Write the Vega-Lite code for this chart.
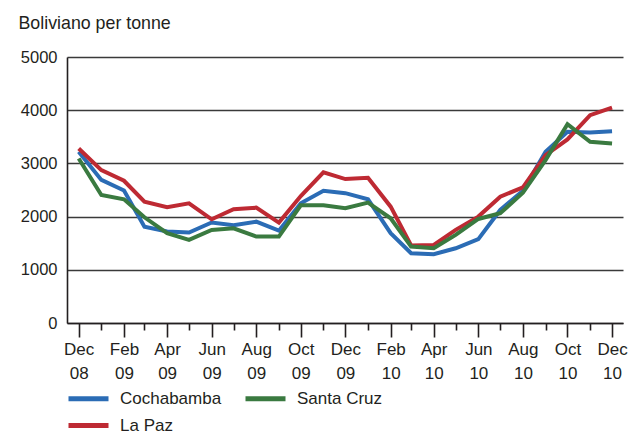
{
  "$schema": "https://vega.github.io/schema/vega-lite/v6.json",
  "width": 556,
  "height": 266,
  "autosize": "none",
  "padding": {"left": 67, "top": 57, "right": 6, "bottom": 111},
  "config": {
    "font": "Liberation Sans",
    "view": {"stroke": null}
  },
  "data": {
    "values": [
      {"date": "2008-12-01", "market": "Cochabamba", "price": 3218},
      {"date": "2009-01-01", "market": "Cochabamba", "price": 2690},
      {"date": "2009-02-01", "market": "Cochabamba", "price": 2490},
      {"date": "2009-03-01", "market": "Cochabamba", "price": 1810},
      {"date": "2009-04-01", "market": "Cochabamba", "price": 1720},
      {"date": "2009-05-01", "market": "Cochabamba", "price": 1700},
      {"date": "2009-06-01", "market": "Cochabamba", "price": 1890},
      {"date": "2009-07-01", "market": "Cochabamba", "price": 1840},
      {"date": "2009-08-01", "market": "Cochabamba", "price": 1905},
      {"date": "2009-09-01", "market": "Cochabamba", "price": 1735},
      {"date": "2009-10-01", "market": "Cochabamba", "price": 2250},
      {"date": "2009-11-01", "market": "Cochabamba", "price": 2487},
      {"date": "2009-12-01", "market": "Cochabamba", "price": 2440},
      {"date": "2010-01-01", "market": "Cochabamba", "price": 2325},
      {"date": "2010-02-01", "market": "Cochabamba", "price": 1690},
      {"date": "2010-03-01", "market": "Cochabamba", "price": 1312},
      {"date": "2010-04-01", "market": "Cochabamba", "price": 1293},
      {"date": "2010-05-01", "market": "Cochabamba", "price": 1405},
      {"date": "2010-06-01", "market": "Cochabamba", "price": 1575},
      {"date": "2010-07-01", "market": "Cochabamba", "price": 2125},
      {"date": "2010-08-01", "market": "Cochabamba", "price": 2487},
      {"date": "2010-09-01", "market": "Cochabamba", "price": 3218},
      {"date": "2010-10-01", "market": "Cochabamba", "price": 3593},
      {"date": "2010-11-01", "market": "Cochabamba", "price": 3581},
      {"date": "2010-12-01", "market": "Cochabamba", "price": 3606},
      {"date": "2008-12-01", "market": "La Paz", "price": 3281},
      {"date": "2009-01-01", "market": "La Paz", "price": 2874},
      {"date": "2009-02-01", "market": "La Paz", "price": 2674},
      {"date": "2009-03-01", "market": "La Paz", "price": 2281},
      {"date": "2009-04-01", "market": "La Paz", "price": 2175},
      {"date": "2009-05-01", "market": "La Paz", "price": 2250},
      {"date": "2009-06-01", "market": "La Paz", "price": 1950},
      {"date": "2009-07-01", "market": "La Paz", "price": 2138},
      {"date": "2009-08-01", "market": "La Paz", "price": 2168},
      {"date": "2009-09-01", "market": "La Paz", "price": 1887},
      {"date": "2009-10-01", "market": "La Paz", "price": 2387},
      {"date": "2009-11-01", "market": "La Paz", "price": 2831},
      {"date": "2009-12-01", "market": "La Paz", "price": 2706},
      {"date": "2010-01-01", "market": "La Paz", "price": 2731},
      {"date": "2010-02-01", "market": "La Paz", "price": 2187},
      {"date": "2010-03-01", "market": "La Paz", "price": 1456},
      {"date": "2010-04-01", "market": "La Paz", "price": 1468},
      {"date": "2010-05-01", "market": "La Paz", "price": 1750},
      {"date": "2010-06-01", "market": "La Paz", "price": 2000},
      {"date": "2010-07-01", "market": "La Paz", "price": 2375},
      {"date": "2010-08-01", "market": "La Paz", "price": 2550},
      {"date": "2010-09-01", "market": "La Paz", "price": 3156},
      {"date": "2010-10-01", "market": "La Paz", "price": 3450},
      {"date": "2010-11-01", "market": "La Paz", "price": 3906},
      {"date": "2010-12-01", "market": "La Paz", "price": 4050},
      {"date": "2008-12-01", "market": "Santa Cruz", "price": 3093},
      {"date": "2009-01-01", "market": "Santa Cruz", "price": 2406},
      {"date": "2009-02-01", "market": "Santa Cruz", "price": 2325},
      {"date": "2009-03-01", "market": "Santa Cruz", "price": 1987},
      {"date": "2009-04-01", "market": "Santa Cruz", "price": 1687},
      {"date": "2009-05-01", "market": "Santa Cruz", "price": 1562},
      {"date": "2009-06-01", "market": "Santa Cruz", "price": 1750},
      {"date": "2009-07-01", "market": "Santa Cruz", "price": 1781},
      {"date": "2009-08-01", "market": "Santa Cruz", "price": 1625},
      {"date": "2009-09-01", "market": "Santa Cruz", "price": 1625},
      {"date": "2009-10-01", "market": "Santa Cruz", "price": 2212},
      {"date": "2009-11-01", "market": "Santa Cruz", "price": 2212},
      {"date": "2009-12-01", "market": "Santa Cruz", "price": 2156},
      {"date": "2010-01-01", "market": "Santa Cruz", "price": 2262},
      {"date": "2010-02-01", "market": "Santa Cruz", "price": 1968},
      {"date": "2010-03-01", "market": "Santa Cruz", "price": 1437},
      {"date": "2010-04-01", "market": "Santa Cruz", "price": 1406},
      {"date": "2010-05-01", "market": "Santa Cruz", "price": 1656},
      {"date": "2010-06-01", "market": "Santa Cruz", "price": 1956},
      {"date": "2010-07-01", "market": "Santa Cruz", "price": 2062},
      {"date": "2010-08-01", "market": "Santa Cruz", "price": 2450},
      {"date": "2010-09-01", "market": "Santa Cruz", "price": 3062},
      {"date": "2010-10-01", "market": "Santa Cruz", "price": 3737},
      {"date": "2010-11-01", "market": "Santa Cruz", "price": 3406},
      {"date": "2010-12-01", "market": "Santa Cruz", "price": 3375}
    ]
  },
  "mark": {"type": "line", "strokeWidth": 4, "strokeJoin": "miter"},
  "encoding": {
    "x": {
      "field": "date",
      "type": "temporal",
      "scale": {
        "type": "utc",
        "domain": [
          {"year": 2008, "month": 11, "date": 15, "utc": true},
          {"year": 2010, "month": 12, "date": 16, "utc": true}
        ]
      },
      "axis": {
        "title": null,
        "grid": false,
        "tickCount": {"interval": "month", "step": 1},
        "labelExpr": "utcmonth(datum.value) % 2 == 1 ? [utcFormat(datum.value, '%b'), utcFormat(datum.value, '%y')] : ''",
        "labelFontSize": 17,
        "labelColor": "#231f20",
        "labelLineHeight": 24,
        "labelPadding": 4,
        "labelOverlap": false,
        "labelBound": false,
        "labelFlush": false,
        "domainColor": "#231f20",
        "domainWidth": 1.6,
        "tickColor": "#231f20",
        "tickWidth": 1.6,
        "tickSize": {"condition": {"test": "utcmonth(datum.value) % 2 == 1", "value": 14}, "value": 7}
      }
    },
    "y": {
      "field": "price",
      "type": "quantitative",
      "scale": {"domain": [0, 5000], "nice": false},
      "axis": {
        "values": [0, 1000, 2000, 3000, 4000, 5000],
        "format": "d",
        "title": "Boliviano per tonne",
        "titleAngle": 0,
        "titleAlign": "left",
        "titleBaseline": "alphabetic",
        "titleX": -49,
        "titleY": -29,
        "titleFontSize": 17.8,
        "titleFontWeight": "normal",
        "titleColor": "#231f20",
        "labelFontSize": 16.5,
        "labelColor": "#231f20",
        "labelPadding": 10,
        "ticks": false,
        "domainColor": "#231f20",
        "domainWidth": 1.6,
        "grid": true,
        "gridColor": "#3a3a3a",
        "gridWidth": 1.3
      }
    },
    "color": {
      "field": "market",
      "type": "nominal",
      "scale": {
        "domain": ["Cochabamba", "Santa Cruz", "La Paz"],
        "range": ["#2b6cb5", "#3a7a40", "#be2a33"]
      },
      "legend": {
        "title": null,
        "orient": "none",
        "legendX": 9,
        "legendY": 329,
        "direction": "horizontal",
        "columns": 2,
        "symbolType": "M-2,0H2",
        "symbolSize": 400,
        "symbolStrokeWidth": 5,
        "labelFontSize": 17,
        "labelColor": "#231f20",
        "labelOffset": 19,
        "columnPadding": 13,
        "rowPadding": 4
      }
    },
    "order": {"field": "date", "type": "temporal"}
  }
}
